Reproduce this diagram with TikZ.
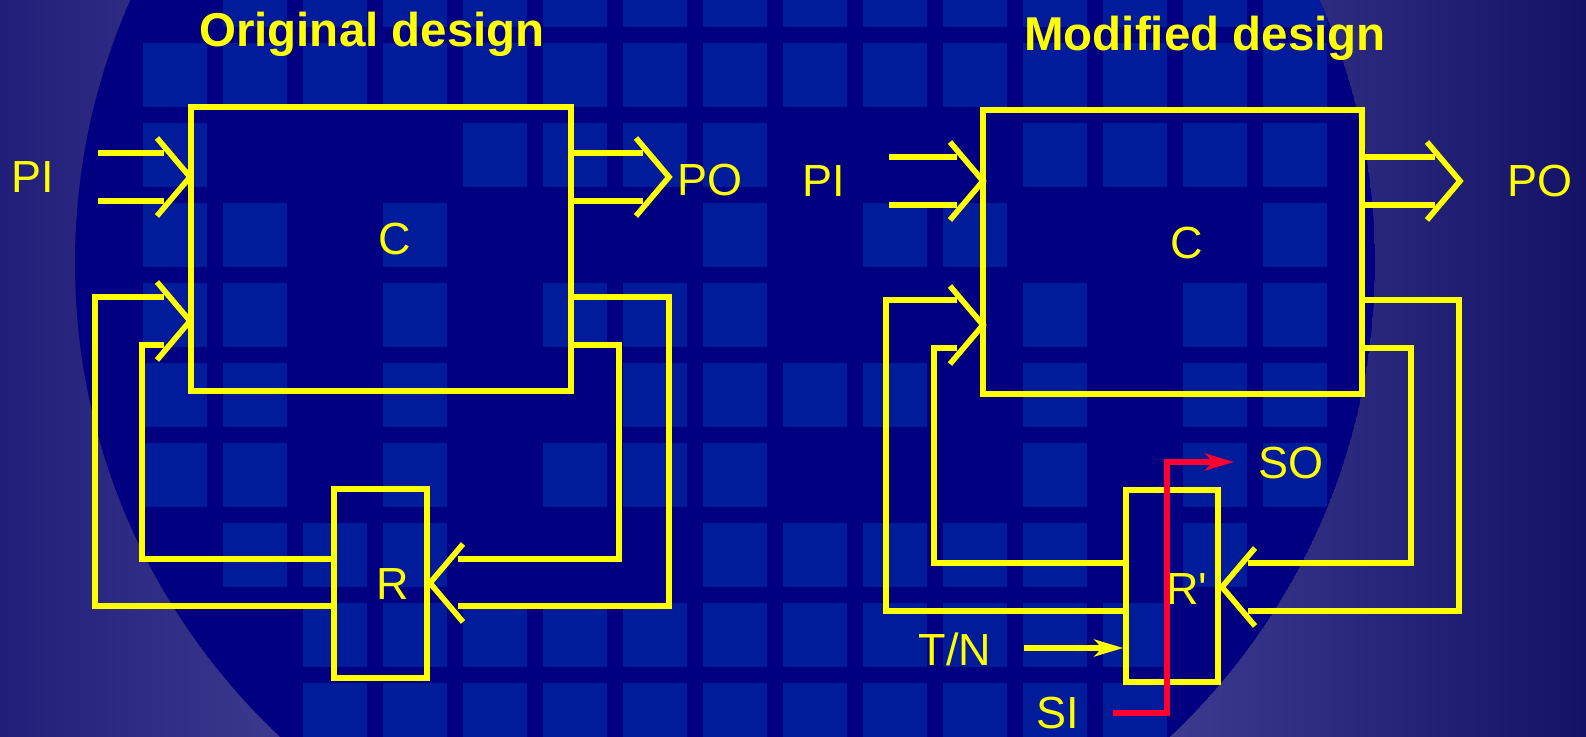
\documentclass[tikz,border=0pt]{standalone}
\usepackage{fontspec}
\setmainfont{Liberation Sans}
\usetikzlibrary{arrows.meta}
\definecolor{navy}{RGB}{0,0,128}
\definecolor{tile}{RGB}{0,28,155}
\definecolor{bgside}{RGB}{32,30,120}
\definecolor{bglight}{RGB}{60,58,142}
\definecolor{bgdark}{RGB}{20,18,102}
\definecolor{wireyel}{RGB}{255,255,0}
\definecolor{scanred}{RGB}{255,0,51}
\pgfdeclarehorizontalshading{backdrop}{100bp}{color(0bp)=(bgside); color(25bp)=(bgside); color(34bp)=(bglight); color(62bp)=(bglight); color(75bp)=(bgdark); color(100bp)=(bgdark)}
\tikzset{
  wire/.style={draw=wireyel,line width=2.8pt},
  block/.style={draw=wireyel,line width=2.8pt,inner sep=0pt},
  lbl/.style={text=wireyel,anchor=base,inner sep=0pt,font=\fontsize{22.5}{27}\selectfont},
  heading/.style={text=wireyel,anchor=base,inner sep=0pt,font=\fontsize{23.75}{28}\selectfont\bfseries},
  tiparrow/.style={-{Stealth[length=14.5pt,width=8.5pt,inset=4pt]}},
  chevin/.pic={\draw[wire] (-33,-39) -- (0,0) -- (-33,39);},
}

\begin{document}
\begin{tikzpicture}[x=0.5pt,y=-0.5pt]
\useasboundingbox (0,0) rectangle (1586,737);
\shade[shading=backdrop] (0,0) rectangle (1586,737);
\begin{scope}
\clip (725,263) circle[radius=650];
\fill[navy] (725,263) circle[radius=650];
\foreach \row/\cols in {-37/{1,...,14},43/{0,...,14},123/{0,4,5,6,7,11,12,13,14},
  203/{0,1,3,7,9,10,14},283/{0,1,3,5,6,7,11,13,14},363/{0,1,3,6,7,8,9,11,13,14},
  443/{0,1,3,5,6,7,11,13,14},523/{1,2,3,7,8,9,10,11,13},603/{2,...,12},683/{2,...,12}}
  \foreach \k in \cols \fill[tile] ({143+80*\k},\row) rectangle ++(64,64);
\end{scope}

\begin{scope}
\node (title1) [heading] at (372,47) {Original design};
\node (C1) [block,minimum width=190pt,minimum height=142pt] at (381,249) {};
\node (C1lbl) [lbl] at (395,255) {C};
\node (PI1) [lbl] at (33,193) {PI};
\node (PO1) [lbl] at (710,196) {PO};
\node (R1) [block,minimum width=46.5pt,minimum height=94.5pt] at (380.5,583.5) {};
\node (R1lbl) [lbl] at (393,600) {R};
\draw[wire] (98,153) -- (164,153);
\draw[wire] (98,201) -- (164,201);
\pic at (190,177) {chevin};
\draw[wire] (C1.east |- 0,153) -- (643,153);
\draw[wire] (C1.east |- 0,201) -- (643,201);
\pic at (669,177) {chevin};
\pic at (190,321) {chevin};
\draw[wire] (164,297) -| (95,606) -- (R1.west |- 0,606);
\draw[wire] (164,345) -| (142,559) -- (R1.west |- 0,559);
\draw[wire] (C1.east |- 0,297) -| (669,606) -- (458,606);
\draw[wire] (C1.east |- 0,345) -| (619,559) -- (458,559);
\pic[rotate=180] at (430,583) {chevin};
\end{scope}

\begin{scope}
\node (title2) [heading] at (1205,51) {Modified design};
\node (C2) [block,minimum width=189.5pt,minimum height=142pt] at (1172.5,252) {};
\node (C2lbl) [lbl] at (1187,259) {C};
\node (PI2) [lbl] at (824,197) {PI};
\node (PO2) [lbl] at (1540,197) {PO};
\node (R2) [block,minimum width=46pt,minimum height=96pt] at (1172,586) {};
\node (R2lbl) [lbl] at (1187,604) {R\textquotesingle};
\node (TN) [lbl] at (955,666) {T/N};
\node (SI) [lbl] at (1058,728) {SI};
\node (SO) [lbl] at (1291,479) {SO};
\draw[wire] (889,157) -- (957,157);
\draw[wire] (889,205) -- (957,205);
\pic at (983,181) {chevin};
\draw[wire] (C2.east |- 0,157) -- (1435,157);
\draw[wire] (C2.east |- 0,205) -- (1435,205);
\pic at (1460,181) {chevin};
\pic at (983,325) {chevin};
\draw[wire] (957,300) -| (886,611) -- (R2.west |- 0,611);
\draw[wire] (957,348) -| (934,563) -- (R2.west |- 0,563);
\draw[wire] (C2.east |- 0,300) -| (1459,611) -- (1248,611);
\draw[wire] (C2.east |- 0,348) -| (1411,563) -- (1248,563);
\pic[rotate=180] at (1222,587) {chevin};
\coordinate (tnstart) at (1024,648);
\draw[wire,tiparrow] (tnstart) -- (R2.west |- tnstart);
\coordinate (sistart) at (1113,713);
\coordinate (soend) at (1234,462);
\draw[draw=scanred,fill=none,line width=2.8pt,tiparrow] (sistart) -- (1167,713) -- (1167,462) -- (soend);
\end{scope}
\end{tikzpicture}
\end{document}
